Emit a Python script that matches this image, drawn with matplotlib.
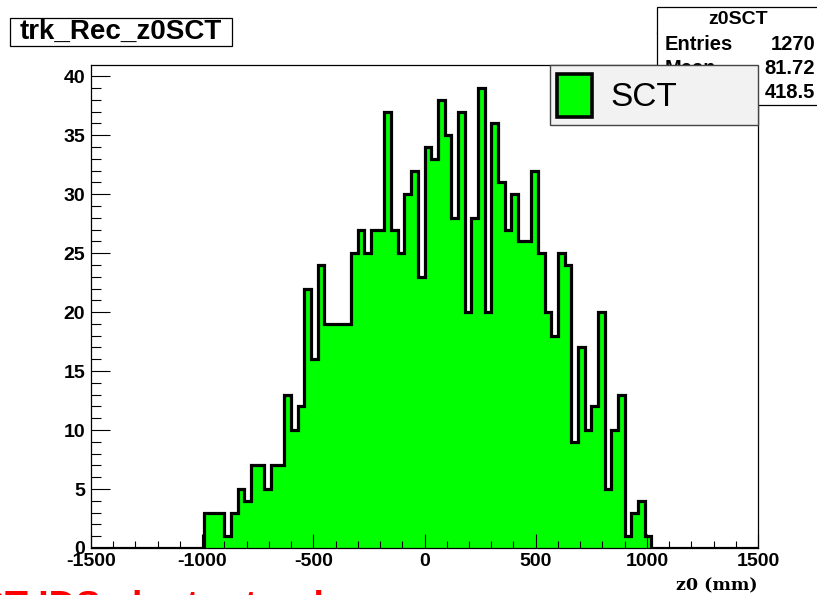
import numpy as np
from matplotlib import pyplot as plt
from matplotlib.patches import Rectangle
from matplotlib.lines import Line2D

# histogram z0SCT: 100 bins from -1500 to 1500 mm
x_min, x_max, n_bins = -1500, 1500, 100
counts = [0] * 17 + [
    3, 3, 3, 1, 3, 5, 4, 7, 7, 5, 7, 7, 13, 10, 12, 22, 16, 24,
    19, 19, 19, 19, 25, 27, 25, 27, 27, 37, 27, 25, 30, 32, 23, 34,
    33, 38, 35, 28, 37, 20, 28, 39, 20, 36, 31, 27, 30, 26, 26, 32,
    25, 20, 18, 25, 24, 9, 17, 10, 12, 20, 5, 10, 13, 1, 3, 4, 1,
] + [0] * 16

stat_names = ["Entries", "Mean", "RMS"]
stat_values = ["1270", "81.72", "418.5"]

hist_name = "z0SCT"
canvas_title = "trk_Rec_z0SCT"
legend_label = "SCT"
x_label = "z0 (mm)"

W, H = 817, 595
SANS = ["Liberation Sans", "DejaVu Sans"]
plt.rcParams["axes.unicode_minus"] = False


def fx(x):
    return x / W


def fy(y):
    return 1 - y / H


fig = plt.figure(figsize=(W / 100, H / 100), dpi=100)
fig.patch.set_facecolor("white")

ax = fig.add_axes([fx(91), fy(548), (758 - 91) / W, (548 - 65) / H])
edges = np.linspace(x_min, x_max, n_bins + 1)
ax.stairs(counts, edges, fill=True, color="#00ff00", zorder=1)
ax.stairs(counts, edges, color="black", linewidth=2.3, zorder=2)

ax.set_xlim(x_min, x_max)
ax.set_ylim(0, 1.05 * max(counts))
ax.set_xticks(np.arange(-1500, 1501, 500))
ax.set_xticks(np.arange(-1500, 1501, 100), minor=True)
ax.set_yticks(np.arange(0, 41, 5))
ax.set_yticks(np.arange(0, 41, 1), minor=True)
ax.tick_params(axis="x", which="major", direction="in", length=10, width=0.8, pad=3.5)
ax.tick_params(axis="x", which="minor", direction="in", length=5, width=0.8)
ax.tick_params(axis="y", which="major", direction="in", length=14, width=0.8, pad=4.3)
ax.tick_params(axis="y", which="minor", direction="in", length=7, width=0.8)
for lab in ax.get_xticklabels() + ax.get_yticklabels():
    lab.set_family(SANS)
    lab.set_fontweight("bold")
    lab.set_fontsize(14)
for sp in ax.spines.values():
    sp.set_linewidth(0.9)

ax.text(1.0, -0.06, x_label, transform=ax.transAxes, ha="right", va="top",
        family=["DejaVu Serif"], fontweight="bold", fontsize=12.5)

# title box
fig.patches.append(Rectangle((fx(10), fy(46)), 222 / W, 28 / H, transform=fig.transFigure,
                             facecolor="white", edgecolor="black", linewidth=0.9))
fig.text(fx(121), fy(32), canvas_title, ha="center", va="center",
         family=SANS, fontweight="bold", fontsize=20)

# stats box
fig.patches.append(Rectangle((fx(657), fy(105)), 170 / W, 98 / H, transform=fig.transFigure,
                             facecolor="white", edgecolor="black", linewidth=0.9, zorder=3))
fig.lines.append(Line2D([fx(657), fx(830)], [fy(33), fy(33)], transform=fig.transFigure,
                        color="black", linewidth=0.9, zorder=3))
fig.text(fx(738), fy(20), hist_name, ha="center", va="center",
         family=SANS, fontweight="bold", fontsize=14, zorder=4)
for i, (name, val) in enumerate(zip(stat_names, stat_values)):
    y = 45 + 24 * i
    fig.text(fx(665), fy(y), name, ha="left", va="center",
             family=SANS, fontweight="bold", fontsize=14.5, zorder=4)
    fig.text(fx(815), fy(y), val, ha="right", va="center",
             family=SANS, fontweight="bold", fontsize=14.5, zorder=4)

# legend box drawn over the stats box
fig.patches.append(Rectangle((fx(550), fy(125)), 208 / W, 60 / H, transform=fig.transFigure,
                             facecolor="#f2f2f2", edgecolor="#444444", linewidth=1.0, zorder=5))
fig.patches.append(Rectangle((fx(557), fy(117)), 35 / W, 43 / H, transform=fig.transFigure,
                             facecolor="#00ff00", edgecolor="black", linewidth=2.6, zorder=6))
fig.text(fx(610), fy(98), legend_label, ha="left", va="center",
         family=SANS, fontsize=24, zorder=6)

# red slide caption, cut off at the bottom edge
fig.text(fx(-47), fy(618), "SCT IDS cluster tracks", ha="left", va="baseline",
         family=SANS, fontweight="bold", fontsize=27, color="#ff0000")

fig.savefig("out.png", dpi=100)
